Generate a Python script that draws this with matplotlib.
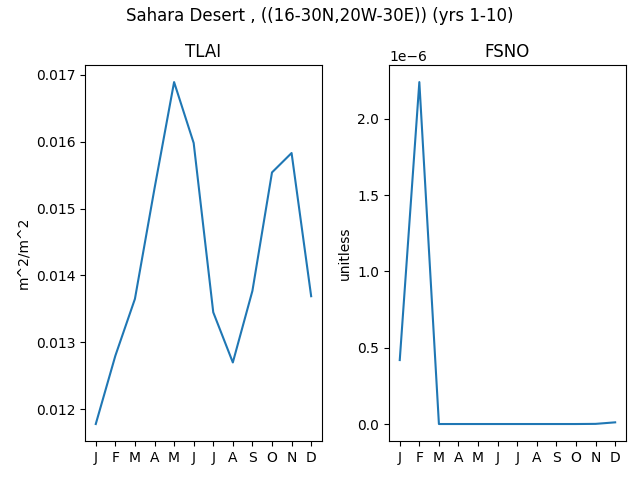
import numpy as np
import matplotlib
matplotlib.use('Agg')
import matplotlib.pyplot as plt

months = ['J', 'F', 'M', 'A', 'M', 'J', 'J', 'A', 'S', 'O', 'N', 'D']

# monthly climatology
tlai = [0.01178, 0.01280, 0.01365, 0.01530, 0.01689, 0.01598,
        0.01345, 0.01270, 0.01377, 0.01554, 0.01583, 0.01369]
fsno = [0.419e-6, 2.240e-6, 0.0, 0.0, 0.0, 0.0,
        0.0, 0.0, 0.0, 0.0, 0.001e-6, 0.011e-6]

x = np.arange(len(months))

fig, axes = plt.subplots(1, 2, figsize=(6.4, 4.8))
fig.suptitle('Sahara Desert , ((16-30N,20W-30E)) (yrs 1-10)', y=0.985)

axes[0].plot(x, tlai)
axes[0].set_title('TLAI')
axes[0].set_ylabel('m^2/m^2')

axes[1].plot(x, fsno)
axes[1].set_title('FSNO')
axes[1].set_ylabel('unitless')

for ax in axes:
    ax.set_xticks(x)
    ax.set_xticklabels(months)

fig.subplots_adjust(left=0.1328, right=0.978, top=0.8646, bottom=0.081, wspace=0.283)
plt.savefig('out.png', dpi=100)
